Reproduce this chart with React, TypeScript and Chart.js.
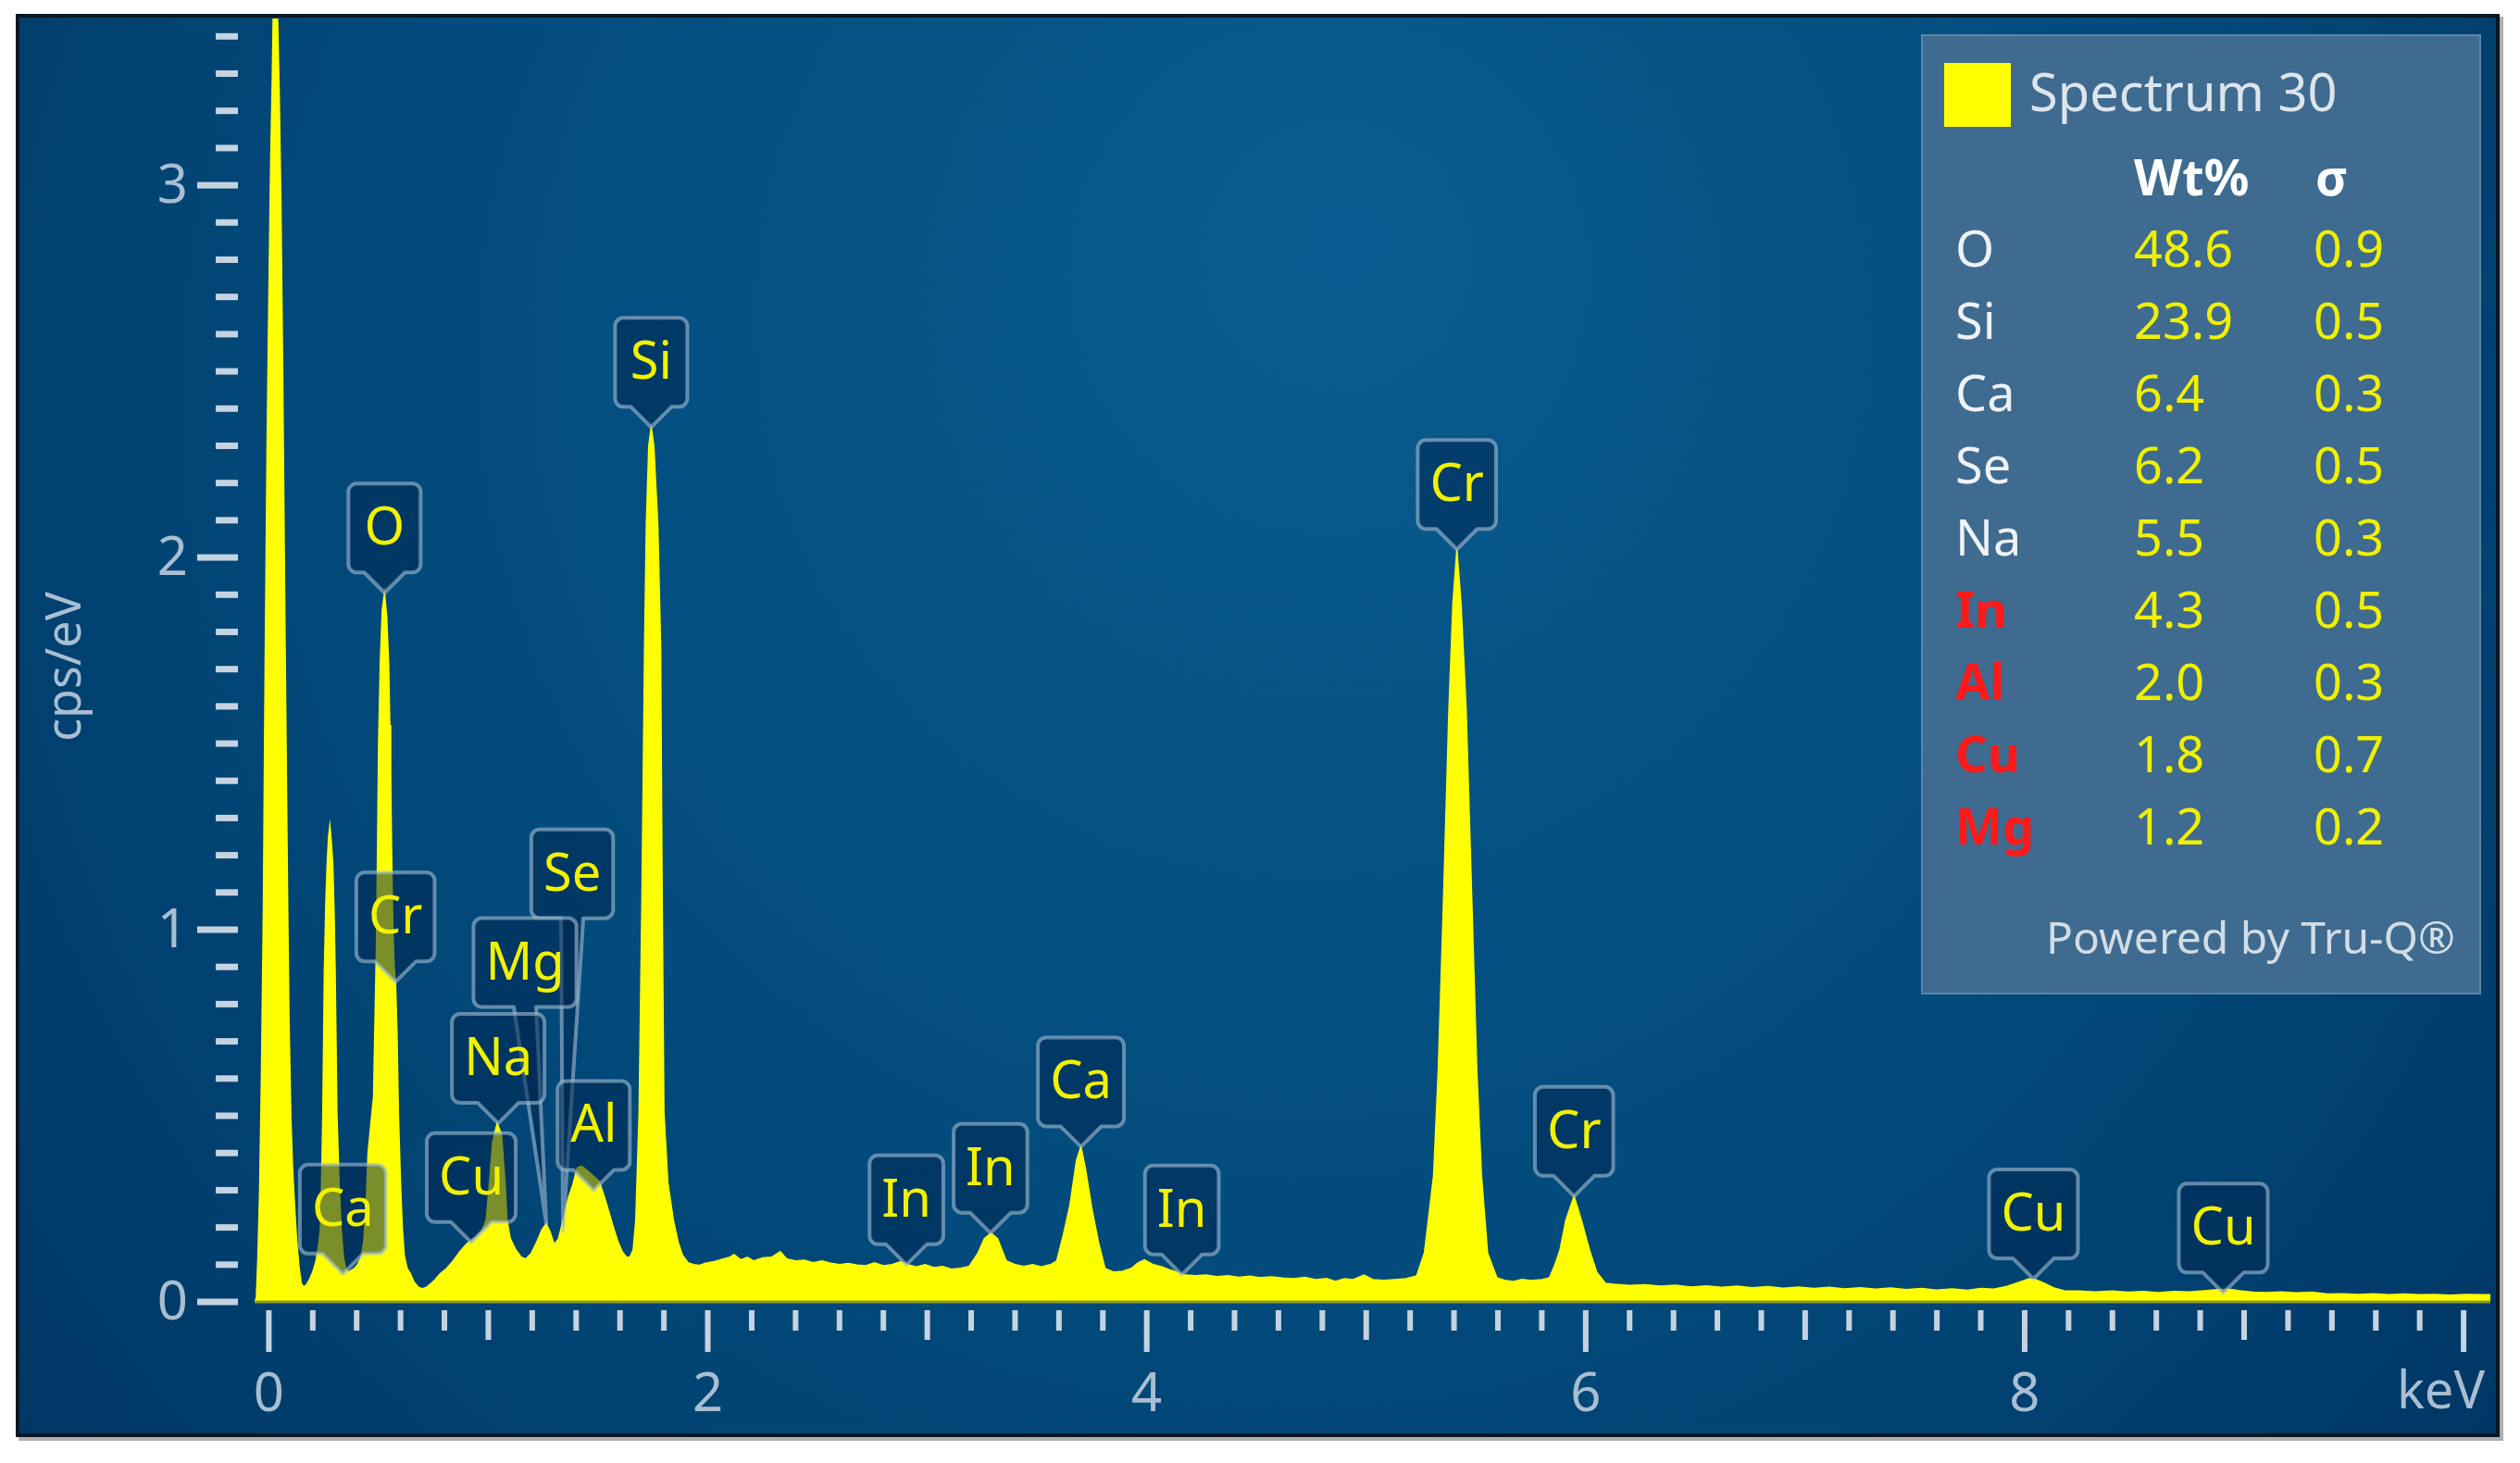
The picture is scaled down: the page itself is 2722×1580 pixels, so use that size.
import { useEffect, useRef } from 'react';
import { Chart, registerables } from 'chart.js';

Chart.register(...registerables);

// ---------------- DATA ----------------
// Spectrum: [energy keV, cps/eV]
const SPECTRUM_LOW: [number, number][] = [
  [-0.065, 0], [-0.057, 0.01], [-0.05, 0.12], [-0.042, 0.3], [-0.034, 0.6], [-0.025, 1.05], [-0.017, 1.7],
  [-0.008, 2.3], [0, 2.7], [0.008, 3.05], [0.016, 3.3], [0.026, 3.7], [0.038, 3.5], [0.047, 3.25], [0.055, 2.95],
  [0.063, 2.5], [0.072, 1.9], [0.08, 1.4], [0.086, 1.05], [0.092, 0.75], [0.1, 0.5], [0.108, 0.36], [0.116, 0.27],
  [0.126, 0.17], [0.138, 0.09], [0.148, 0.05], [0.158, 0.04], [0.17, 0.045], [0.185, 0.06], [0.2, 0.08],
  [0.215, 0.11], [0.226, 0.15], [0.234, 0.19], [0.24, 0.315], [0.246, 0.51], [0.253, 0.89], [0.26, 1.08],
  [0.266, 1.18], [0.272, 1.25], [0.278, 1.28], [0.284, 1.24], [0.291, 1.18], [0.297, 1.05], [0.302, 0.89],
  [0.31, 0.51], [0.32, 0.315], [0.33, 0.19], [0.34, 0.12], [0.35, 0.09], [0.362, 0.08], [0.375, 0.085],
  [0.39, 0.09], [0.405, 0.1], [0.42, 0.12], [0.432, 0.16], [0.443, 0.26], [0.452, 0.4], [0.465, 0.48],
  [0.477, 0.55], [0.485, 0.8], [0.49, 0.95], [0.495, 1.2], [0.5, 1.5], [0.508, 1.72], [0.517, 1.86],
  [0.527, 1.905], [0.537, 1.84], [0.546, 1.71], [0.551, 1.55], [0.555, 1.42], [0.559, 1.22], [0.565, 1.0],
  [0.571, 0.9], [0.577, 0.86], [0.584, 0.72], [0.59, 0.51], [0.6, 0.315], [0.608, 0.2], [0.617, 0.125],
  [0.63, 0.09], [0.644, 0.077], [0.66, 0.055], [0.68, 0.04], [0.7, 0.035],
];

const SPECTRUM_MID: [number, number][] = [
  [0.72, 0.04], [0.75, 0.055], [0.78, 0.075], [0.81, 0.09], [0.84, 0.11], [0.87, 0.135], [0.9, 0.155],
  [0.92, 0.165], [0.945, 0.175], [0.97, 0.19], [0.99, 0.22], [1.005, 0.32], [1.02, 0.43], [1.04, 0.48],
  [1.06, 0.45], [1.075, 0.33], [1.085, 0.22], [1.1, 0.17], [1.125, 0.14], [1.15, 0.12], [1.17, 0.115],
  [1.195, 0.13], [1.22, 0.16], [1.245, 0.195], [1.264, 0.21], [1.28, 0.19], [1.3, 0.154], [1.32, 0.17],
  [1.345, 0.23], [1.365, 0.28], [1.385, 0.315], [1.405, 0.36], [1.425, 0.365], [1.45, 0.353], [1.475, 0.34],
  [1.505, 0.324], [1.53, 0.28], [1.55, 0.24], [1.57, 0.2], [1.59, 0.163], [1.61, 0.135], [1.63, 0.12],
  [1.645, 0.12], [1.66, 0.14], [1.672, 0.22], [1.687, 0.51], [1.7, 1.09], [1.712, 1.76], [1.72, 2.09],
  [1.731, 2.3], [1.742, 2.35], [1.754, 2.3], [1.772, 2.09], [1.785, 1.76], [1.792, 1.09], [1.8, 0.51],
  [1.818, 0.32], [1.843, 0.22], [1.865, 0.16], [1.885, 0.125], [1.91, 0.105], [1.935, 0.1], [1.96, 0.098],
  [1.99, 0.104],
];

const SPECTRUM_CA: [number, number][] = [
  [2.03, 0.108], [2.07, 0.115], [2.1, 0.12], [2.12, 0.127], [2.15, 0.113], [2.18, 0.12], [2.21, 0.11],
  [2.25, 0.118], [2.29, 0.12], [2.33, 0.135], [2.36, 0.115], [2.4, 0.11], [2.44, 0.112], [2.48, 0.105],
  [2.52, 0.11], [2.56, 0.104], [2.6, 0.1], [2.64, 0.103], [2.68, 0.099], [2.72, 0.097], [2.76, 0.105],
  [2.8, 0.097], [2.84, 0.1], [2.88, 0.108], [2.91, 0.1], [2.95, 0.094], [2.99, 0.1], [3.03, 0.092],
  [3.07, 0.095], [3.11, 0.088], [3.15, 0.09], [3.19, 0.095], [3.23, 0.13], [3.26, 0.17], [3.29, 0.185],
  [3.32, 0.17], [3.36, 0.11], [3.4, 0.1], [3.44, 0.095], [3.48, 0.1], [3.52, 0.094], [3.56, 0.1],
  [3.59, 0.11], [3.62, 0.18], [3.65, 0.26], [3.68, 0.38], [3.7, 0.417], [3.72, 0.36], [3.75, 0.25],
  [3.78, 0.16], [3.81, 0.09], [3.85, 0.08], [3.89, 0.082], [3.93, 0.09], [3.96, 0.105], [3.99, 0.113],
  [4.03, 0.1], [4.07, 0.094], [4.11, 0.085], [4.17, 0.073],
];

const SPECTRUM_CR: [number, number][] = [
  [4.22, 0.07], [4.27, 0.072], [4.32, 0.068], [4.37, 0.07], [4.42, 0.066], [4.47, 0.069], [4.52, 0.065],
  [4.57, 0.067], [4.62, 0.064], [4.67, 0.062], [4.72, 0.066], [4.77, 0.06], [4.82, 0.063], [4.86, 0.055],
  [4.9, 0.062], [4.94, 0.06], [4.99, 0.072], [5.03, 0.06], [5.08, 0.058], [5.13, 0.06], [5.18, 0.062],
  [5.23, 0.07], [5.265, 0.131], [5.285, 0.23], [5.307, 0.34], [5.328, 0.619], [5.35, 1.038], [5.377, 1.596],
  [5.395, 1.875], [5.413, 2.022], [5.432, 1.875], [5.455, 1.596], [5.483, 1.038], [5.504, 0.619],
  [5.525, 0.34], [5.553, 0.131], [5.595, 0.065], [5.63, 0.058], [5.67, 0.055], [5.71, 0.06], [5.75, 0.057],
  [5.8, 0.06], [5.835, 0.065], [5.86, 0.1], [5.883, 0.14], [5.91, 0.22], [5.947, 0.284], [5.98, 0.22],
  [6.017, 0.14], [6.05, 0.08], [6.09, 0.05],
];

const SPECTRUM_HIGH: [number, number][] = [
  [6.13, 0.047], [6.2, 0.044], [6.27, 0.046], [6.34, 0.042], [6.41, 0.045], [6.48, 0.04], [6.55, 0.043],
  [6.62, 0.039], [6.69, 0.042], [6.76, 0.038], [6.83, 0.041], [6.9, 0.037], [6.97, 0.04], [7.04, 0.036],
  [7.11, 0.039], [7.18, 0.035], [7.25, 0.038], [7.32, 0.034], [7.39, 0.037], [7.46, 0.033], [7.53, 0.036],
  [7.6, 0.032], [7.67, 0.035], [7.74, 0.031], [7.8, 0.036], [7.86, 0.034], [7.92, 0.042], [7.97, 0.052],
  [8.02, 0.062], [8.05, 0.06], [8.09, 0.05], [8.13, 0.038], [8.18, 0.03], [8.25, 0.029], [8.32, 0.027],
  [8.4, 0.029], [8.47, 0.026], [8.54, 0.028], [8.61, 0.025], [8.68, 0.028], [8.75, 0.027], [8.82, 0.03],
  [8.88, 0.033], [8.93, 0.034], [8.98, 0.03], [9.04, 0.026], [9.1, 0.025], [9.17, 0.027], [9.24, 0.024],
  [9.31, 0.026], [9.38, 0.021], [9.45, 0.022], [9.52, 0.02], [9.59, 0.022], [9.66, 0.019], [9.73, 0.021],
  [9.8, 0.019], [9.87, 0.02], [9.94, 0.018], [10.01, 0.02], [10.08, 0.019], [10.122, 0.019],
];

// Peak labels: element, line energy (keV), spectrum height at label tip (cps/eV)
const PEAK_ELEMENTS = ['Ca', 'O', 'Cr', 'Cu', 'Se', 'Mg', 'Na', 'Al', 'Si', 'In', 'In', 'Ca', 'In', 'Cr', 'Cr', 'Cu', 'Cu'];
const PEAK_ENERGY = [0.337, 0.527, 0.577, 0.922, 1.34, 1.264, 1.045, 1.48, 1.742, 2.905, 3.288, 3.7, 4.16, 5.413, 5.947, 8.04, 8.905];
const PEAK_TIP = [0.075, 1.905, 0.86, 0.16, 0.19, 0.21, 0.48, 0.30, 2.35, 0.1, 0.185, 0.417, 0.073, 2.022, 0.284, 0.062, 0.024];

// Quant results table
const RESULT_ELEMENTS = ['O', 'Si', 'Ca', 'Se', 'Na', 'In', 'Al', 'Cu', 'Mg'];
const RESULT_WT = ['48.6', '23.9', '6.4', '6.2', '5.5', '4.3', '2.0', '1.8', '1.2'];
const RESULT_SIGMA = ['0.9', '0.5', '0.3', '0.5', '0.3', '0.5', '0.3', '0.7', '0.2'];
const RESULT_FLAGGED = [false, false, false, false, false, true, true, true, true];

const X_LABELS = [0, 2, 4, 6, 8];
const Y_LABELS = [0, 1, 2, 3];

// ---------------- LAYOUT / STYLE ----------------
const W = 2722;
const H = 1580;
const FONT = "'Noto Sans', 'Open Sans', sans-serif";
const X_MIN = -0.065;
const X_MAX = 10.122;
const Y_MAX = 3.448;
// long leader pointers for crowded labels: index -> [dx px, lift px]
const LABEL_OFFSETS: Record<number, [number, number]> = { 4: [10, 338], 5: [-23, 234] };

function text(ctx: CanvasRenderingContext2D, s: string, x: number, y: number, align: CanvasTextAlign, font: string, color: string) {
  ctx.font = font;
  ctx.fillStyle = color;
  ctx.textAlign = align;
  ctx.textBaseline = 'middle';
  ctx.fillText(s, x, y);
}

const framePlugin = {
  id: 'frame',
  beforeDraw(chart: any) {
    const ctx = chart.ctx as CanvasRenderingContext2D;
    ctx.save();
    ctx.fillStyle = '#ffffff';
    ctx.fillRect(0, 0, W, H);
    ctx.fillStyle = 'rgba(110,110,110,0.55)';
    ctx.fillRect(20, 18, 2684, 1538);
    ctx.fillStyle = '#0a1722';
    ctx.fillRect(17, 15, 2683, 1537);
    const g = ctx.createRadialGradient(1450, 260, 40, 1350, 520, 1750);
    g.addColorStop(0, '#0a5b8f');
    g.addColorStop(0.55, '#024b7c');
    g.addColorStop(1, '#003563');
    ctx.fillStyle = g;
    ctx.fillRect(21, 19, 2675, 1529);
    ctx.restore();
  },
};

const axesPlugin = {
  id: 'edsAxes',
  afterDatasetsDraw(chart: any) {
    const ctx = chart.ctx as CanvasRenderingContext2D;
    const xs = chart.scales.x;
    const ys = chart.scales.y;
    const area = chart.chartArea;
    const y0 = ys.getPixelForValue(0);
    ctx.save();
    // baseline
    ctx.fillStyle = '#8e9c1c';
    ctx.fillRect(area.left, y0 - 1.5, area.right - area.left, 3);
    // y ticks
    ctx.fillStyle = '#c5d3e0';
    for (let i = 0; i <= 34; i++) {
      const y = ys.getPixelForValue(i / 10);
      if (i % 10 === 0) ctx.fillRect(213, y - 3.5, 44, 7);
      else ctx.fillRect(233, y - 3.5, 24, 7);
    }
    // x ticks
    for (let i = 0; i <= 50; i++) {
      const x = xs.getPixelForValue(i * 0.2);
      const len = i % 10 === 0 ? 45 : i % 5 === 0 ? 32 : 22;
      ctx.fillRect(x - 3, y0 + 9, 6, len);
    }
    const tickFont = `58px ${FONT}`;
    const lc = '#a9bed2';
    Y_LABELS.forEach((v) => text(ctx, String(v), 203, ys.getPixelForValue(v) + 2, 'right', tickFont, lc));
    X_LABELS.forEach((v) => text(ctx, String(v), xs.getPixelForValue(v), 1507, 'center', tickFont, lc));
    text(ctx, 'keV', 2684, 1505, 'right', `56px ${FONT}`, lc);
    ctx.save();
    ctx.translate(72, 720);
    ctx.rotate(-Math.PI / 2);
    text(ctx, 'cps/eV', 0, 0, 'center', `52px ${FONT}`, lc);
    ctx.restore();
    ctx.restore();
  },
};

const labelsPlugin = {
  id: 'peakLabels',
  afterDraw(chart: any) {
    const ctx = chart.ctx as CanvasRenderingContext2D;
    const xs = chart.scales.x;
    const ys = chart.scales.y;
    const font = `56px ${FONT}`;
    ctx.save();
    PEAK_ELEMENTS.forEach((el, i) => {
      const tipX = xs.getPixelForValue(PEAK_ENERGY[i]);
      const tipY = ys.getPixelForValue(PEAK_TIP[i]);
      const [dx, lift] = LABEL_OFFSETS[i] || [0, 22];
      ctx.font = font;
      const tw = ctx.measureText(el).width;
      const w = Math.max(78, tw + 26);
      const h = 96;
      const cx = tipX + dx;
      const bottom = tipY - lift;
      const top = bottom - h;
      const left = cx - w / 2;
      const right = cx + w / 2;
      const r = 9;
      const bh = lift > 30 ? 12 : 22;
      ctx.beginPath();
      ctx.moveTo(left + r, top);
      ctx.lineTo(right - r, top);
      ctx.arcTo(right, top, right, top + r, r);
      ctx.lineTo(right, bottom - r);
      ctx.arcTo(right, bottom, right - r, bottom, r);
      ctx.lineTo(cx + bh, bottom);
      ctx.lineTo(tipX, tipY);
      ctx.lineTo(cx - bh, bottom);
      ctx.lineTo(left + r, bottom);
      ctx.arcTo(left, bottom, left, bottom - r, r);
      ctx.lineTo(left, top + r);
      ctx.arcTo(left, top, left + r, top, r);
      ctx.closePath();
      ctx.fillStyle = 'rgba(0,38,78,0.52)';
      ctx.fill();
      ctx.strokeStyle = 'rgba(165,190,212,0.6)';
      ctx.lineWidth = 4;
      ctx.lineJoin = 'round';
      ctx.stroke();
      text(ctx, el, cx, top + h / 2 + 2, 'center', font, '#f2f200');
    });
    ctx.restore();

    // results legend
    ctx.save();
    ctx.fillStyle = '#3e6b8f';
    ctx.fillRect(2075, 37, 605, 1037);
    ctx.strokeStyle = 'rgba(120,160,190,0.5)';
    ctx.lineWidth = 2;
    ctx.strokeRect(2076, 38, 603, 1035);
    ctx.fillStyle = '#ffff00';
    ctx.fillRect(2100, 68, 72, 69);
    text(ctx, 'Spectrum 30', 2192, 104, 'left', `56px ${FONT}`, '#dde5ec');
    text(ctx, 'Wt%', 2305, 196, 'left', `bold 54px ${FONT}`, '#ffffff');
    text(ctx, 'σ', 2501, 196, 'left', `bold 54px ${FONT}`, '#ffffff');
    RESULT_ELEMENTS.forEach((el, i) => {
      const y = 273 + i * 78;
      const flagged = RESULT_FLAGGED[i];
      text(ctx, el, 2112, y, 'left', `${flagged ? 'bold ' : ''}54px ${FONT}`, flagged ? '#ff1a1a' : '#eef2f6');
      text(ctx, RESULT_WT[i], 2305, y, 'left', `54px ${FONT}`, '#f0f000');
      text(ctx, RESULT_SIGMA[i], 2499, y, 'left', `54px ${FONT}`, '#f0f000');
    });
    text(ctx, 'Powered by Tru-Q®', 2652, 1016, 'right', `48px ${FONT}`, '#d3dce4');
    ctx.restore();
  },
};

export default function App() {
  const ref = useRef<HTMLCanvasElement | null>(null);
  useEffect(() => {
    if (!ref.current) return;
    const points = [...SPECTRUM_LOW, ...SPECTRUM_MID, ...SPECTRUM_CA, ...SPECTRUM_CR, ...SPECTRUM_HIGH].map(([x, y]) => ({ x, y }));
    const chart = new Chart(ref.current, {
      type: 'line',
      data: {
        datasets: [
          {
            data: points,
            fill: 'origin',
            backgroundColor: '#ffff00',
            borderColor: '#ffff00',
            borderWidth: 1.5,
            pointRadius: 0,
            tension: 0,
          },
        ],
      },
      options: {
        animation: false,
        responsive: false,
        devicePixelRatio: 1,
        events: [],
        layout: { padding: { left: 275, right: 32, top: 20, bottom: 174 } },
        scales: {
          x: { type: 'linear', min: X_MIN, max: X_MAX, display: false },
          y: { type: 'linear', min: 0, max: Y_MAX, display: false },
        },
        plugins: { legend: { display: false }, tooltip: { enabled: false } },
      },
      plugins: [framePlugin, axesPlugin, labelsPlugin],
    });
    return () => chart.destroy();
  }, []);
  return (
    <div style={{ position: 'absolute', left: 0, top: 0, width: W, height: H, background: '#fff' }}>
      <canvas ref={ref} width={W} height={H} style={{ display: 'block', width: W, height: H }} />
    </div>
  );
}
